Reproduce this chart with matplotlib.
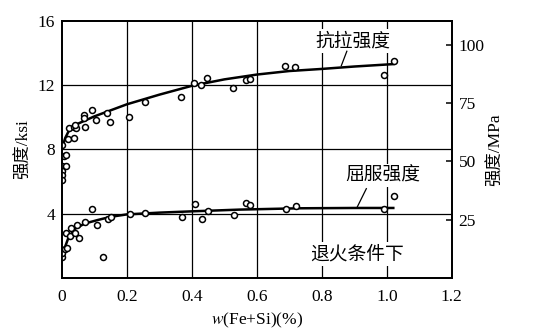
import matplotlib.pyplot as plt

plt.rcParams['font.family'] = ['Liberation Serif', 'Noto Sans CJK SC']
plt.rcParams['mathtext.fontset'] = 'stix'

# measured points: tensile strength (ksi) vs w(Fe+Si) (%)
tensile_x = [0.0, 0.006, 0.014, 0.001, 0.011, 0.001, 0.001, 0.001, 0.02, 0.023,
             0.038, 0.037, 0.042, 0.04, 0.072, 0.067, 0.068, 0.091, 0.106, 0.138,
             0.147, 0.207, 0.256, 0.367, 0.407, 0.428, 0.448, 0.528, 0.567, 0.578,
             0.688, 0.718, 0.991, 1.021]
tensile_y = [8.27, 7.6, 7.67, 6.99, 6.95, 6.68, 6.43, 6.1, 8.65, 9.3,
             8.7, 9.4, 9.35, 9.5, 9.4, 10.15, 9.95, 10.46, 9.83, 10.26,
             9.72, 10.03, 10.92, 11.23, 12.12, 12.0, 12.45, 11.83, 12.3, 12.35,
             13.19, 13.13, 12.64, 13.5]

# measured points: yield strength (ksi)
yield_x = [0.001, 0.001, 0.009, 0.016, 0.014, 0.025, 0.028, 0.04, 0.045, 0.052,
           0.071, 0.094, 0.108, 0.126, 0.141, 0.15, 0.209, 0.257, 0.37, 0.409,
           0.43, 0.449, 0.529, 0.568, 0.579, 0.689, 0.72, 0.991, 1.022]
yield_y = [1.27, 1.52, 1.8, 1.83, 2.8, 2.6, 3.1, 2.8, 3.3, 2.47,
           3.47, 4.31, 3.26, 1.27, 3.64, 3.79, 3.95, 4.01, 3.79, 4.58,
           3.66, 4.18, 3.89, 4.66, 4.51, 4.28, 4.45, 4.31, 5.09]

# fitted trend curves
tensile_fit_x = [0.0, 0.01, 0.02, 0.035, 0.05, 0.1, 0.2, 0.3, 0.4, 0.5, 0.6, 0.7, 0.8, 0.9, 1.02]
tensile_fit_y = [8.05, 8.7, 9.1, 9.4, 9.6, 10.05, 10.8, 11.4, 11.95, 12.35, 12.65, 12.87, 13.0, 13.15, 13.3]
yield_fit_x = [0.0, 0.01, 0.02, 0.04, 0.07, 0.11, 0.15, 0.2, 0.3, 0.4, 0.55, 0.73, 0.9, 1.02]
yield_fit_y = [1.4, 1.95, 2.5, 3.05, 3.38, 3.6, 3.8, 3.95, 4.06, 4.14, 4.25, 4.33, 4.35, 4.35]

xticks = [0, 0.2, 0.4, 0.6, 0.8, 1.0, 1.2]
xtick_labels = ['0', '0.2', '0.4', '0.6', '0.8', '1.0', '1.2']
yticks = [4, 8, 12, 16]
mpa_ticks = [25, 50, 75, 100]
KSI_TO_MPA = 6.895

cjk = ['Noto Sans CJK SC', 'DejaVu Sans']

fig = plt.figure(figsize=(5.34, 3.34), dpi=100)
ax = fig.add_axes([0.116, 0.168, 0.730, 0.770])

# grid drawn by hand-style lines
for gx in [0.2, 0.4, 0.6, 0.8, 1.0]:
    ax.axvline(gx, color='black', lw=0.9, zorder=1)
for gy in [4, 8, 12]:
    ax.axhline(gy, color='black', lw=0.9, zorder=1)

ax.plot(tensile_fit_x, tensile_fit_y, color='black', lw=1.8, zorder=3)
ax.plot(yield_fit_x, yield_fit_y, color='black', lw=1.8, zorder=3)
ax.plot(tensile_x, tensile_y, 'o', mfc='white', mec='black', ms=4.3, mew=1.1, zorder=4)
ax.plot(yield_x, yield_y, 'o', mfc='white', mec='black', ms=4.3, mew=1.1, zorder=4)

ax.set_xlim(0, 1.2)
ax.set_ylim(0, 16)
ax.set_xticks(xticks)
ax.set_xticklabels(xtick_labels)
ax.set_yticks(yticks)
ax.tick_params(axis='both', length=0, labelsize=12.5)
ax.tick_params(axis='x', pad=8)
ax.tick_params(axis='y', pad=5)
for s in ax.spines.values():
    s.set_linewidth(1.3)

ax.set_xlabel(r'$w$(Fe+Si)(%)', fontsize=12.5, labelpad=4)
ax.set_ylabel('强度/ksi', fontsize=12.5)
ax.yaxis.set_label_coords(-0.077, 0.5)

# secondary scale in MPa
ax2 = ax.twinx()
ax2.set_ylim(0, 16 * KSI_TO_MPA)
ax2.set_yticks(mpa_ticks)
ax2.tick_params(axis='y', direction='in', length=4, width=1.1, labelsize=12.5, pad=5)
ax2.set_ylabel('强度/MPa', fontsize=12.5)
ax2.yaxis.set_label_coords(1.092, 0.5)
for s in ax2.spines.values():
    s.set_linewidth(1.3)

box = dict(facecolor='white', edgecolor='none', pad=1)
ax.text(0.895, 14.74, '抗拉强度', family=cjk, fontsize=13.5, ha='center', va='center', bbox=box, zorder=5)
ax.plot([0.877, 0.86], [14.1, 13.2], color='black', lw=0.9, zorder=5)
ax.text(0.989, 6.37, '屈服强度', family=cjk, fontsize=13.5, ha='center', va='center', bbox=box, zorder=5)
ax.plot([0.937, 0.909], [5.55, 4.41], color='black', lw=0.9, zorder=5)
ax.text(0.909, 1.47, '退火条件下', family=cjk, fontsize=13.5, ha='center', va='center', bbox=box, zorder=5)

fig.savefig('out.png', dpi=100)
